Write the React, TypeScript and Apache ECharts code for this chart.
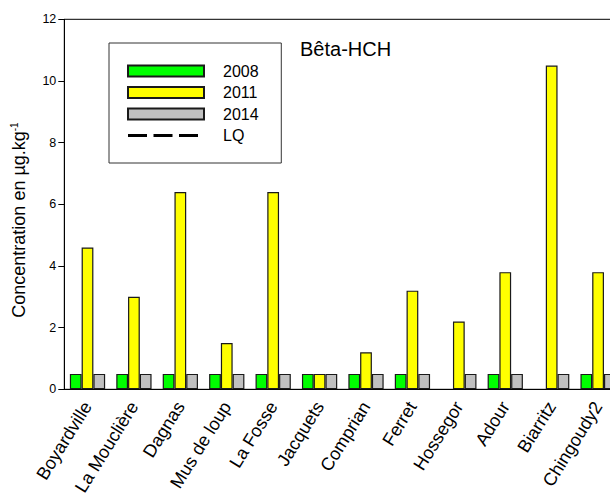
import React, { useEffect, useRef } from "react";
import * as echarts from "echarts";

// Sampling sites along the x axis
const sites = [
  "Boyardville",
  "La Mouclière",
  "Dagnas",
  "Mus de loup",
  "La Fosse",
  "Jacquets",
  "Comprian",
  "Ferret",
  "Hossegor",
  "Adour",
  "Biarritz",
  "Chingoudy2",
];

// Bêta-HCH concentrations (µg/kg) per campaign; null = no measurement
const values2008 = [0.5, 0.5, 0.5, 0.5, 0.5, 0.5, 0.5, 0.5, null, 0.5, null, 0.5];
const values2011 = [4.6, 3.0, 6.4, 1.5, 6.4, 0.5, 1.2, 3.2, 2.2, 3.8, 10.5, 3.8];
const values2014 = [0.5, 0.5, 0.5, 0.5, 0.5, 0.5, 0.5, 0.5, 0.5, 0.5, 0.5, 0.5];

const legendNames = ["2008", "2011", "2014", "LQ"];
const yMin = 0;
const yMax = 12;
const yStep = 2;

const FONT = "'Liberation Sans', Arial, Helvetica, sans-serif";

// Three-dash glyph for the LQ legend entry (corner points keep the 76x11 frame)
const dashIcon =
  "path://M0,0L0.01,0M76,11L75.99,11M0,4H19V7H0ZM25.5,4H44.5V7H25.5ZM51,4H70V7H51Z";

export default function App() {
  const ref = useRef<HTMLDivElement>(null);

  useEffect(() => {
    if (!ref.current) return;
    const chart = echarts.init(ref.current, undefined, { renderer: "svg" });

    const barStyle = (color: string) => ({
      color,
      borderColor: "#1a1a1a",
      borderWidth: 1.2,
    });

    chart.setOption({
      animation: false,
      backgroundColor: "#fff",
      textStyle: { fontFamily: FONT },
      grid: {
        left: 64.3,
        top: 19.3,
        width: 557,
        height: 370,
        show: true,
        borderColor: "#000",
        borderWidth: 1,
        containLabel: false,
        outerBoundsMode: "none",
      },
      legend: {
        orient: "vertical",
        left: 109,
        top: 43,
        padding: [20, 22.7, 19.5, 18],
        borderColor: "#333",
        borderWidth: 1,
        itemWidth: 76,
        itemHeight: 11,
        itemGap: 5.5,
        selectedMode: false,
        textStyle: {
          fontSize: 16,
          lineHeight: 16,
          color: "#000",
          fontFamily: FONT,
          padding: [0, 0, 0, 14],
        },
        data: [
          { name: legendNames[0], icon: "rect" },
          { name: legendNames[1], icon: "rect" },
          { name: legendNames[2], icon: "rect" },
          {
            name: legendNames[3],
            icon: dashIcon,
            itemStyle: { color: "#000", borderWidth: 0 },
          },
        ],
      },
      xAxis: {
        type: "category",
        data: sites,
        axisLine: { lineStyle: { color: "#000", width: 1 } },
        axisTick: { alignWithLabel: true, length: 5, lineStyle: { color: "#000" } },
        axisLabel: {
          interval: 0,
          rotate: 58,
          fontSize: 18,
          color: "#000",
          fontFamily: FONT,
          margin: 14,
        },
        splitLine: { show: false },
      },
      yAxis: {
        type: "value",
        min: yMin,
        max: yMax,
        interval: yStep,
        axisLine: { show: true, lineStyle: { color: "#000", width: 1 } },
        axisTick: { show: true, length: 6, lineStyle: { color: "#000" } },
        axisLabel: { fontSize: 12.5, color: "#000", margin: 8, fontFamily: FONT },
        splitLine: { show: false },
      },
      graphic: [
        {
          type: "text",
          x: 300,
          y: 49,
          style: {
            text: "Bêta-HCH",
            fontSize: 20,
            fontFamily: FONT,
            fill: "#000",
            align: "left",
            verticalAlign: "middle",
          },
        },
        {
          type: "text",
          x: 19,
          y: 220,
          rotation: Math.PI / 2,
          style: {
            text: "{m|Concentration en µg.kg}{s|-1}",
            align: "center",
            verticalAlign: "middle",
            fill: "#000",
            rich: {
              m: { fontSize: 18, fontFamily: FONT, fill: "#000", lineHeight: 20 },
              s: {
                fontSize: 10,
                fontFamily: FONT,
                fill: "#000",
                verticalAlign: "top",
                lineHeight: 12,
              },
            },
          },
        },
      ],
      series: [
        {
          name: legendNames[0],
          type: "bar",
          data: values2008,
          barGap: "0%",
          barCategoryGap: "24%",
          itemStyle: barStyle("#00ff00"),
          silent: true,
        },
        {
          name: legendNames[1],
          type: "bar",
          data: values2011,
          barGap: "0%",
          barCategoryGap: "24%",
          itemStyle: barStyle("#ffff00"),
          silent: true,
        },
        {
          name: legendNames[2],
          type: "bar",
          data: values2014,
          barGap: "0%",
          barCategoryGap: "24%",
          itemStyle: barStyle("#c0c0c0"),
          silent: true,
        },
        {
          name: legendNames[3],
          type: "line",
          data: [],
          symbol: "none",
          itemStyle: { color: "#000" },
          lineStyle: { color: "#000", width: 3, type: [19, 6.5] },
          silent: true,
        },
      ],
    });

    return () => chart.dispose();
  }, []);

  return (
    <div
      style={{
        position: "fixed",
        left: 0,
        top: 0,
        width: 610,
        height: 494,
        overflow: "hidden",
        background: "#fff",
      }}
    >
      <div ref={ref} style={{ width: 640, height: 494 }} />
    </div>
  );
}
